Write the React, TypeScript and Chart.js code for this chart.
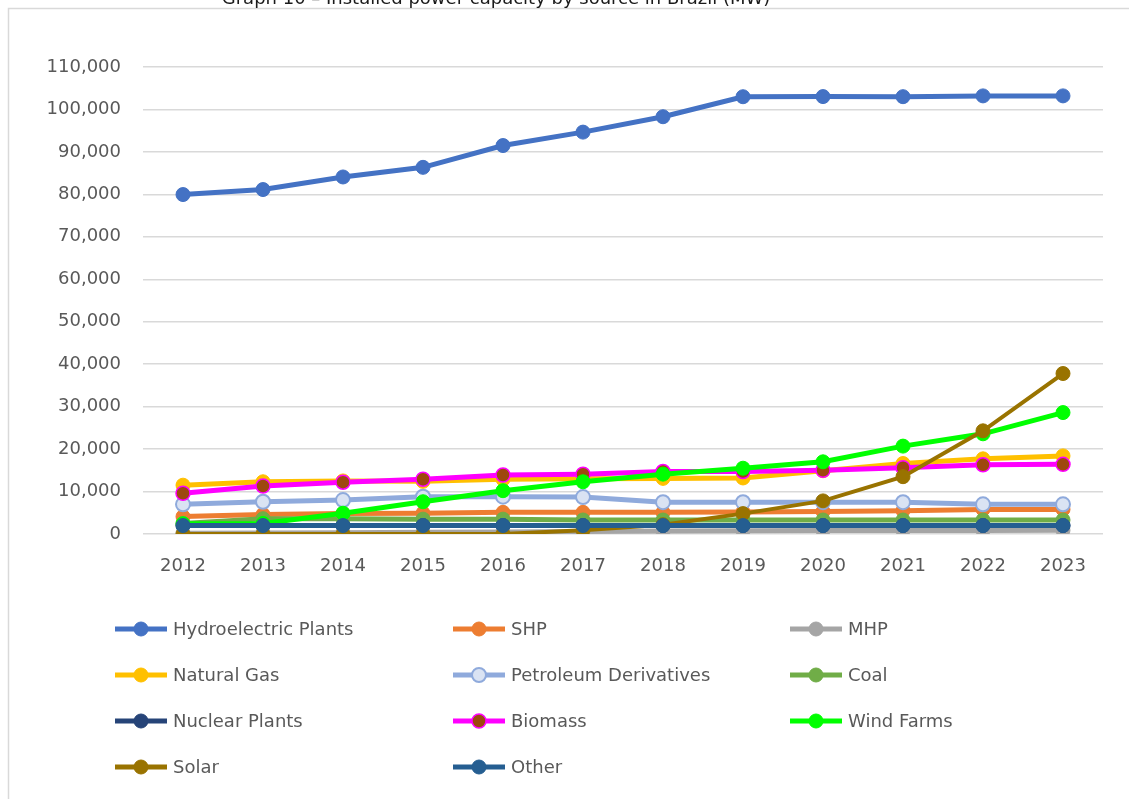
import React, { useEffect, useRef } from "react";
import { Chart, registerables } from "chart.js";

Chart.register(...registerables);

const years = ["2012", "2013", "2014", "2015", "2016", "2017", "2018", "2019", "2020", "2021", "2022", "2023"];

const hydroelectric = [79956, 81132, 84095, 86366, 91499, 94662, 98287, 102999, 103027, 103010, 103195, 103198];
const shp = [4100, 4600, 4800, 4900, 5100, 5100, 5100, 5200, 5300, 5500, 5800, 5800];
const mhp = [200, 250, 300, 400, 480, 600, 700, 750, 800, 820, 850, 870];
const naturalGas = [11500, 12300, 12500, 12400, 12900, 13000, 13100, 13200, 14900, 16600, 17700, 18400];
const petroleum = [7000, 7600, 8000, 8800, 8800, 8700, 7500, 7500, 7500, 7500, 7000, 7000];
const coal = [2500, 3600, 3600, 3500, 3500, 3300, 3300, 3300, 3300, 3300, 3300, 3300];
const nuclear = [1990, 1990, 1990, 1990, 1990, 1990, 1990, 1990, 1990, 1990, 1990, 1990];
const biomass = [9600, 11300, 12200, 12900, 13900, 14100, 14700, 14700, 15000, 15600, 16300, 16400];
const wind = [2400, 2500, 4900, 7600, 10200, 12300, 14100, 15500, 17000, 20700, 23600, 28600];
const solar = [0, 0, 0, 0, 0, 900, 2200, 4800, 7800, 13500, 24300, 37800];
const other = [2000, 2000, 2000, 2000, 2000, 2000, 2000, 2000, 2000, 2000, 2000, 2000];

const yTicks = [0, 10000, 20000, 30000, 40000, 50000, 60000, 70000, 80000, 90000, 100000, 110000];

const title = "Graph 10 – Installed power capacity by source in Brazil (MW)";

type Series = {
  label: string;
  data: number[];
  line: string;
  fill: string;
  border: string;
  width: number;
  pointBorder: number;
};

const series: Series[] = [
  { label: "Hydroelectric Plants", data: hydroelectric, line: "#4472C4", fill: "#4472C4", border: "#4472C4", width: 5, pointBorder: 1 },
  { label: "SHP", data: shp, line: "#ED7D31", fill: "#ED7D31", border: "#ED7D31", width: 5, pointBorder: 1 },
  { label: "MHP", data: mhp, line: "#A5A5A5", fill: "#A5A5A5", border: "#A5A5A5", width: 5, pointBorder: 1 },
  { label: "Natural Gas", data: naturalGas, line: "#FFC000", fill: "#FFC000", border: "#FFC000", width: 5, pointBorder: 1 },
  { label: "Petroleum Derivatives", data: petroleum, line: "#8FAADC", fill: "#DAE3F3", border: "#8FAADC", width: 5, pointBorder: 2 },
  { label: "Coal", data: coal, line: "#70AD47", fill: "#70AD47", border: "#70AD47", width: 5, pointBorder: 1 },
  { label: "Nuclear Plants", data: nuclear, line: "#264478", fill: "#264478", border: "#264478", width: 5, pointBorder: 1 },
  { label: "Biomass", data: biomass, line: "#FF00FF", fill: "#9E480E", border: "#FF00FF", width: 5, pointBorder: 1.5 },
  { label: "Wind Farms", data: wind, line: "#00FF00", fill: "#00FF00", border: "#00FF00", width: 5, pointBorder: 1 },
  { label: "Solar", data: solar, line: "#997300", fill: "#997300", border: "#997300", width: 4, pointBorder: 1 },
  { label: "Other", data: other, line: "#255E91", fill: "#255E91", border: "#255E91", width: 5, pointBorder: 1 },
];

const FONT = "'DejaVu Sans', Verdana, sans-serif";
const TEXT_COLOR = "#595959";

// Frame around the chart and the heading above it
const framePlugin = {
  id: "frame",
  beforeDraw(chart: Chart) {
    const { ctx, width, height } = chart;
    ctx.save();
    ctx.fillStyle = "#ffffff";
    ctx.fillRect(0, 0, width, height);
    ctx.strokeStyle = "#d9d9d9";
    ctx.lineWidth = 1.5;
    ctx.beginPath();
    ctx.moveTo(8.5, height);
    ctx.lineTo(8.5, 8.5);
    ctx.lineTo(width, 8.5);
    ctx.stroke();
    ctx.fillStyle = "#1a1a1a";
    ctx.font = `18px ${FONT}`;
    ctx.textAlign = "center";
    ctx.textBaseline = "alphabetic";
    ctx.fillText(title, 496, 4);
    ctx.restore();
  },
};

// Three-column legend below the axis
const legendPlugin = {
  id: "columnLegend",
  afterDraw(chart: Chart) {
    const { ctx } = chart;
    const colX = [115, 453, 790];
    const rowY0 = 629;
    const rowGap = 46;
    ctx.save();
    ctx.font = `18px ${FONT}`;
    ctx.textBaseline = "middle";
    ctx.textAlign = "left";
    series.forEach((s, i) => {
      const x = colX[i % 3];
      const y = rowY0 + Math.floor(i / 3) * rowGap;
      ctx.strokeStyle = s.line;
      ctx.lineWidth = 5;
      ctx.beginPath();
      ctx.moveTo(x, y);
      ctx.lineTo(x + 52, y);
      ctx.stroke();
      ctx.beginPath();
      ctx.arc(x + 26, y, 7, 0, Math.PI * 2);
      ctx.fillStyle = s.fill;
      ctx.fill();
      ctx.lineWidth = s.pointBorder;
      ctx.strokeStyle = s.border;
      ctx.stroke();
      ctx.fillStyle = TEXT_COLOR;
      ctx.fillText(s.label, x + 58, y + 1);
    });
    ctx.restore();
  },
};

export default function App() {
  const canvasRef = useRef<HTMLCanvasElement | null>(null);

  useEffect(() => {
    if (!canvasRef.current) return;
    const chart = new Chart(canvasRef.current, {
      type: "line",
      data: {
        labels: years,
        datasets: series.map((s, i) => ({
          label: s.label,
          data: s.data,
          borderColor: s.line,
          backgroundColor: s.fill,
          borderWidth: s.width,
          pointRadius: 7,
          pointHoverRadius: 7,
          pointBackgroundColor: s.fill,
          pointBorderColor: s.border,
          pointBorderWidth: s.pointBorder,
          tension: 0,
          fill: false,
          order: series.length - i,
        })),
      },
      options: {
        responsive: false,
        animation: false,
        devicePixelRatio: 1,
        layout: { padding: { left: 0, right: 26, top: 67, bottom: 205 } },
        plugins: {
          legend: { display: false },
          tooltip: { enabled: false },
          title: { display: false },
        },
        scales: {
          x: {
            offset: true,
            grid: { display: false, drawTicks: false },
            border: { display: false },
            ticks: {
              color: TEXT_COLOR,
              font: { family: FONT, size: 18 },
              padding: 22,
              maxRotation: 0,
            },
            afterFit(scale: any) {
              scale.height = 60;
            },
          },
          y: {
            min: 0,
            max: 110000,
            afterBuildTicks(scale: any) {
              scale.ticks = yTicks.map((v) => ({ value: v }));
            },
            grid: { color: "#d9d9d9", lineWidth: 1.5, drawTicks: false },
            border: { display: false },
            ticks: {
              color: TEXT_COLOR,
              font: { family: FONT, size: 18 },
              padding: 22,
              callback: (v: any) => Number(v).toLocaleString("en-US"),
            },
            afterFit(scale: any) {
              scale.width = 143;
            },
          },
        },
      },
      plugins: [framePlugin, legendPlugin],
    });
    return () => chart.destroy();
  }, []);

  return (
    <div style={{ position: "fixed", left: 0, top: 0, width: 1129, height: 799, background: "#fff" }}>
      <canvas ref={canvasRef} width={1129} height={799} style={{ display: "block" }} />
    </div>
  );
}
